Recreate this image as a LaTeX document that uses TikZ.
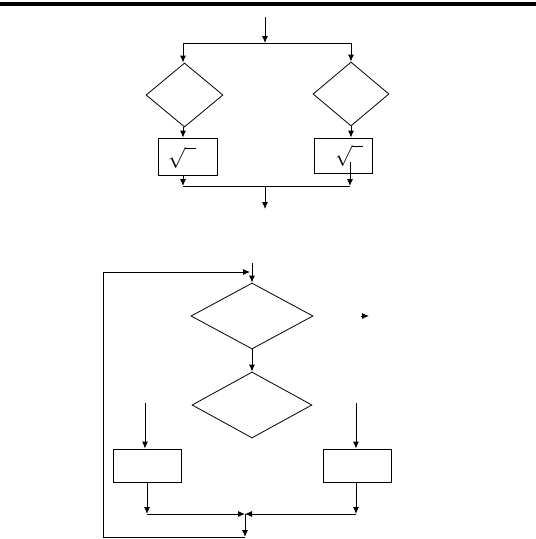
\documentclass[tikz,border=0pt]{standalone}
\usepackage{amssymb,amsmath}
\usepackage{tikz}
\usetikzlibrary{arrows.meta}
\usetikzlibrary{shapes.geometric}
\tikzset{
  flow/.style={line width=0.9pt},
  arr/.style={flow, -{Latex[length=7pt,width=6pt]}},
  decision/.style={diamond, draw, line width=0.8pt, inner sep=0pt, minimum width=#1},
  decision/.default=77pt,
  process/.style={rectangle, draw, line width=0.8pt, inner sep=0pt, minimum width=#1},
  process/.default=59pt,
  root/.style={font=\fontsize{21}{24}\selectfont, inner sep=0pt}
}

\begin{document}
\begin{tikzpicture}[x=1pt, y=-1pt]
    \useasboundingbox (0,0) rectangle (536,539);
    \draw[line width=4.5pt] (0,4) -- (536,4);
    % upper chart
    \coordinate (in) at (265,17);
    \coordinate (fork) at (265,43);
    \coordinate (forkL) at (183,43);
    \coordinate (forkR) at (351,43);
    \node[decision, minimum height=64pt] (dL) at (184.5,95) {};
    \node[decision=76pt, minimum height=64pt] (dR) at (351,94) {};
    \node[process, minimum height=37pt] (pL) at (187.5,156.5) {};
    \node[process=58pt, minimum height=35pt] (pR) at (343,155.5) {};
    \node[root] (sL) at (182,158) {$\sqrt{\phantom{a}}$};
    \node[root] (sR) at (349,156) {$\sqrt{\phantom{a}}$};
    \coordinate (outR) at (350,162);
    \coordinate (joinL) at (183,186);
    \coordinate (joinR) at (350,186);
    \coordinate (join) at (265,186);
    \coordinate (out) at (265,209);
    \draw[arr] (in) -- (fork);
    \draw[flow] (forkL) -- (forkR);
    \draw[arr] (forkL) -- (forkL |- dL.north);
    \draw[arr] (forkR) -- (dR.north);
    \draw[arr] (forkL |- dL.south) -- (forkL |- pL.north);
    \draw[arr] (dR.south) -- (dR.south |- pR.north);
    \draw[arr] (forkL |- pL.south) -- (joinL);
    \draw[arr] (outR) -- (joinR);
    \draw[flow] (joinL) -- (joinR);
    \draw[arr] (join) -- (out);
    % lower chart
    \coordinate (in2) at (252,263);
    \node[decision=122pt, minimum height=66pt] (d1) at (252,316) {};
    \node[decision=120pt, minimum height=66pt] (d2) at (252,405) {};
    \coordinate (yes1) at (361,316);
    \coordinate (yes2) at (369,316);
    \coordinate (inL) at (145,403);
    \coordinate (inR) at (356,403);
    \node[process=68pt, minimum height=33pt] (p1) at (147,465.5) {};
    \node[process=68pt, minimum height=33pt] (p2) at (357,465.5) {};
    \coordinate (mL) at (147,514);
    \coordinate (mR) at (356,514);
    \coordinate (m) at (245,514);
    \coordinate (low) at (245,537);
    \coordinate (loopA) at (103,537);
    \coordinate (loopB) at (103,272);
    \coordinate (loopC) at (250,272);
    \draw[arr] (in2) -- (d1.north);
    \draw[arr] (yes1) -- (yes2);
    \draw[arr] (d1.south) -- (d2.north);
    \draw[arr] (inL) -- (inL |- p1.north);
    \draw[arr] (inR) -- (inR |- p2.north);
    \draw[arr] (p1.south) -- (mL);
    \draw[arr] (inR |- p2.south) -- (mR);
    \draw[arr] (mL) -- (m);
    \draw[arr] (mR) -- (m);
    \draw[arr] (m) -- (low);
    \draw[arr] (low) -- (loopA) -- (loopB) -- (loopC);
\end{tikzpicture}
\end{document}
